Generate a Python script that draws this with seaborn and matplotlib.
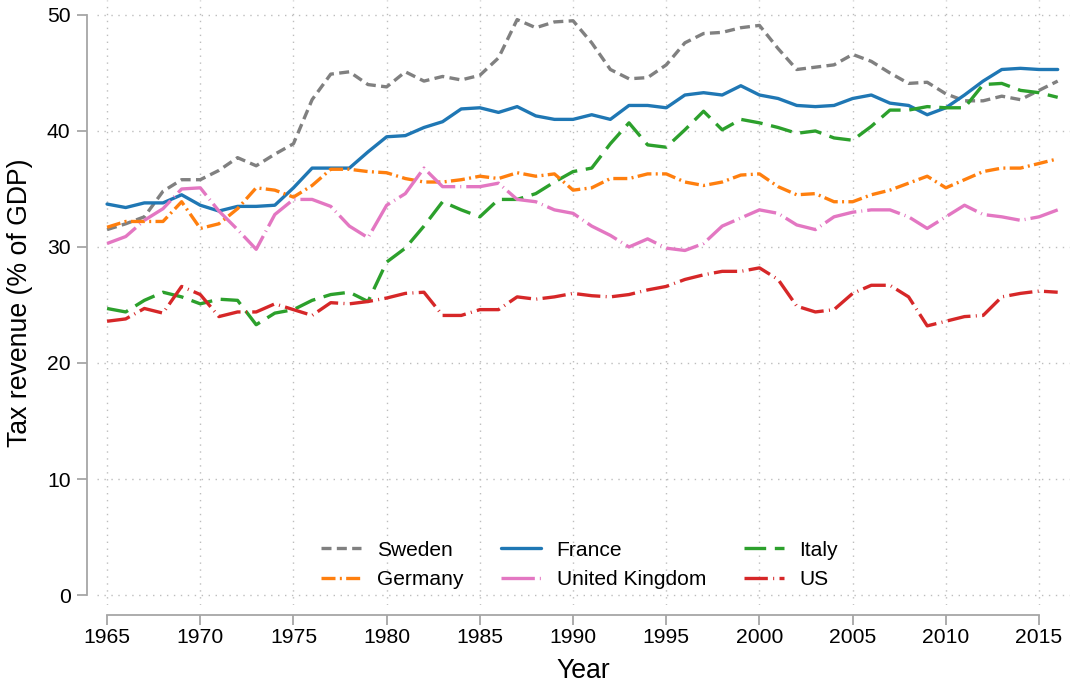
import numpy as np
import pandas as pd
import matplotlib
matplotlib.use("Agg")
import matplotlib.pyplot as plt
import seaborn as sns

years = list(range(1965, 2017))

sweden = [31.5, 32.0, 32.6, 34.8, 35.8, 35.8, 36.6, 37.7, 37.0, 38.0,
          38.9, 42.7, 44.9, 45.1, 44.0, 43.8, 45.1, 44.3, 44.7, 44.4,
          44.8, 46.3, 49.6, 48.9, 49.4, 49.5, 47.6, 45.3, 44.5, 44.6,
          45.7, 47.6, 48.4, 48.5, 48.9, 49.1, 47.1, 45.3, 45.5, 45.7,
          46.6, 46.0, 45.0, 44.1, 44.2, 43.2, 42.6, 42.6, 43.0, 42.7,
          43.5, 44.3]
france = [33.7, 33.4, 33.8, 33.8, 34.5, 33.6, 33.1, 33.5, 33.5, 33.6,
          35.1, 36.8, 36.8, 36.8, 38.2, 39.5, 39.6, 40.3, 40.8, 41.9,
          42.0, 41.6, 42.1, 41.3, 41.0, 41.0, 41.4, 41.0, 42.2, 42.2,
          42.0, 43.1, 43.3, 43.1, 43.9, 43.1, 42.8, 42.2, 42.1, 42.2,
          42.8, 43.1, 42.4, 42.2, 41.4, 42.0, 43.1, 44.3, 45.3, 45.4,
          45.3, 45.3]
italy = [24.7, 24.4, 25.4, 26.1, 25.7, 25.1, 25.5, 25.4, 23.3, 24.3,
         24.6, 25.4, 25.9, 26.1, 25.3, 28.7, 29.9, 31.8, 33.9, 33.2,
         32.6, 34.1, 34.1, 34.6, 35.6, 36.5, 36.8, 38.9, 40.7, 38.8,
         38.6, 40.1, 41.7, 40.1, 41.0, 40.7, 40.3, 39.8, 40.0, 39.4,
         39.2, 40.4, 41.8, 41.8, 42.1, 42.0, 42.0, 44.0, 44.1, 43.5,
         43.3, 42.9]
germany = [31.7, 32.2, 32.2, 32.2, 33.9, 31.6, 32.0, 33.3, 35.1, 34.9,
           34.3, 35.3, 36.7, 36.7, 36.5, 36.4, 35.9, 35.6, 35.6, 35.8,
           36.1, 35.9, 36.4, 36.1, 36.3, 34.9, 35.1, 35.9, 35.9, 36.3,
           36.3, 35.6, 35.3, 35.6, 36.2, 36.3, 35.2, 34.5, 34.6, 33.9,
           33.9, 34.5, 34.9, 35.5, 36.1, 35.1, 35.8, 36.5, 36.8, 36.8,
           37.2, 37.6]
uk = [30.3, 30.9, 32.3, 33.3, 35.0, 35.1, 33.1, 31.5, 29.8, 32.8,
      34.1, 34.1, 33.5, 31.8, 30.8, 33.6, 34.6, 36.8, 35.2, 35.2,
      35.2, 35.5, 34.1, 33.9, 33.2, 32.9, 31.8, 31.0, 30.0, 30.7,
      29.9, 29.7, 30.3, 31.8, 32.5, 33.2, 32.9, 31.9, 31.5, 32.6,
      33.0, 33.2, 33.2, 32.6, 31.6, 32.6, 33.6, 32.8, 32.6, 32.3,
      32.6, 33.2]
us = [23.6, 23.8, 24.7, 24.3, 26.6, 25.9, 24.0, 24.4, 24.4, 25.1,
      24.6, 24.1, 25.2, 25.1, 25.3, 25.6, 26.0, 26.1, 24.1, 24.1,
      24.6, 24.6, 25.7, 25.5, 25.7, 26.0, 25.8, 25.7, 25.9, 26.3,
      26.6, 27.2, 27.6, 27.9, 27.9, 28.2, 27.2, 24.9, 24.4, 24.6,
      26.0, 26.7, 26.7, 25.7, 23.2, 23.6, 24.0, 24.1, 25.7, 26.0,
      26.2, 26.1]

countries = ["Sweden", "France", "Italy", "Germany", "United Kingdom", "US"]
series = [sweden, france, italy, germany, uk, us]

df = pd.concat([pd.DataFrame({"Year": years, "Tax": v, "Country": c})
                for c, v in zip(countries, series)], ignore_index=True)

palette = {"Sweden": "#808080", "France": "#1f77b4", "Italy": "#2ca02c",
           "Germany": "#ff7f0e", "United Kingdom": "#e377c2", "US": "#d62728"}
dashes = {"Sweden": (3.0, 1.6), "France": "", "Italy": (6.5, 2.6),
          "Germany": (4.2, 1.3, 0.6, 1.3), "United Kingdom": (10, 1.5, 0.3, 1.5),
          "US": (7, 1.6, 0.3, 1.6)}

sns.set_theme(style="white")
plt.rcParams["font.family"] = ["Liberation Sans", "DejaVu Sans"]
plt.rcParams["text.color"] = "black"
plt.rcParams["axes.labelcolor"] = "black"

fig = plt.figure(figsize=(10.75, 6.84), dpi=100)
ax = fig.add_axes([97 / 1075, 1 - 605 / 684, 973 / 1075, 605 / 684])

sns.lineplot(data=df, x="Year", y="Tax", hue="Country", style="Country",
             palette=palette, dashes=dashes, hue_order=countries,
             style_order=countries, linewidth=2.4, ax=ax)

ax.set_xlim(1964.46, 2016.66)
ax.set_ylim(-0.86, 51.29)
ax.set_xticks(range(1965, 2016, 5))
ax.set_yticks(range(0, 51, 10))
ax.grid(True, color="#bdbdbd", linestyle=(0, (1, 4)), linewidth=1.0)

for s in ["top", "right"]:
    ax.spines[s].set_visible(False)
for s in ["left", "bottom"]:
    ax.spines[s].set_position(("outward", 7))
    ax.spines[s].set_color("#a6a6a6")
    ax.spines[s].set_linewidth(1.3)
ax.spines["left"].set_bounds(0, 50)
ax.spines["bottom"].set_bounds(1965, 2015)
ax.tick_params(axis="both", direction="out", length=7, width=1.3,
               color="#a6a6a6", labelsize=15.2, labelcolor="black",
               bottom=True, left=True)
ax.tick_params(axis="x", pad=2.5)
ax.tick_params(axis="y", pad=5)

ax.set_xlabel("Year", fontsize=19.2, labelpad=8)
ax.set_ylabel("Tax revenue (% of GDP)", fontsize=19.2, labelpad=10)

h, l = ax.get_legend_handles_labels()
lookup = dict(zip(l, h))
order = ["Sweden", "Germany", "France", "United Kingdom", "Italy", "US"]
ax.legend([lookup[k] for k in order], order, ncol=3, frameon=False,
          loc="center", bbox_to_anchor=(0.496, 0.066), fontsize=15.1,
          handlelength=1.9, handletextpad=0.75, columnspacing=1.8,
          labelspacing=0.5)

fig.savefig("out.png", dpi=100)
